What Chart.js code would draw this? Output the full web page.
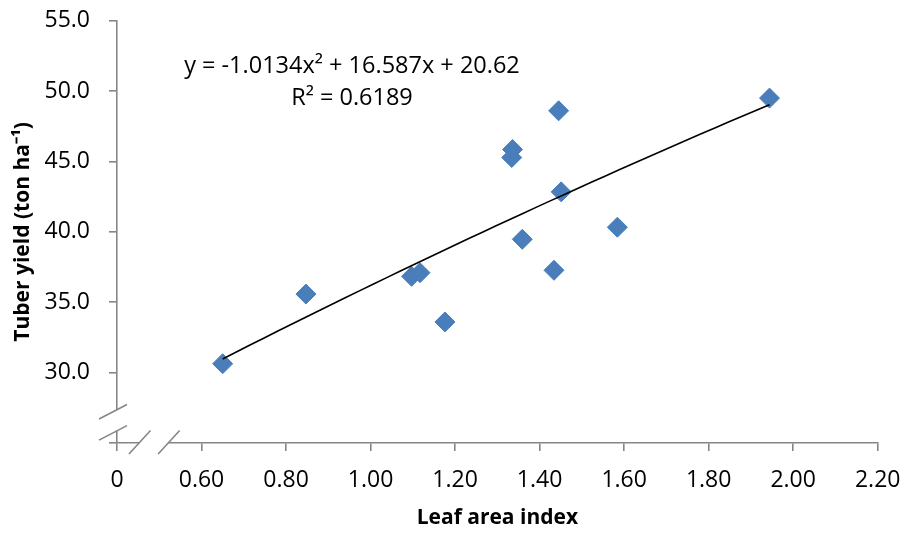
<!DOCTYPE html>
<html>
<head>
<meta charset="utf-8">
<script src="https://cdn.jsdelivr.net/npm/chart.js@4.4.1/dist/chart.umd.min.js"></script>
<style>
  html, body { margin: 0; padding: 0; background: #fff; }
  #wrap { width: 906px; height: 534px; }
</style>
</head>
<body>
<div id="wrap"><canvas id="chart" width="906" height="534"></canvas></div>
<script>
// data
const leafAreaIndex = [0.650, 0.847, 1.097, 1.117, 1.176, 1.334, 1.336, 1.359, 1.434, 1.445, 1.451, 1.584, 1.944];
const tuberYield    = [30.63, 35.58, 36.84, 37.10, 33.60, 45.28, 45.85, 39.47, 37.27, 48.60, 42.84, 40.33, 49.50];

// trendline as printed on the chart: y = a*x^2 + b*x + c
const trendCoef = [-1.0134, 16.587, 20.62];
const trendLabel = ["y = -1.0134x\u00B2 + 16.587x + 20.62", "R\u00B2 = 0.6189"];

const xTickLabels = ["0", "0.60", "0.80", "1.00", "1.20", "1.40", "1.60", "1.80", "2.00", "2.20"];
const yTickLabels = ["", "30.0", "35.0", "40.0", "45.0", "50.0", "55.0"];

const FONT = "'Open Sans', 'Liberation Sans', sans-serif";
const AXIS_GREY = "#868686";

const scatterPoints = leafAreaIndex.map((x, i) => ({ x: x, y: tuberYield[i] }));

// sample the fitted curve between the smallest and largest x
const xLo = Math.min(...leafAreaIndex);
const xHi = Math.max(...leafAreaIndex);
const trendPoints = [];
for (let k = 0; k <= 40; k++) {
    const x = xLo + (xHi - xLo) * k / 40;
    trendPoints.push({ x: x, y: trendCoef[0] * x * x + trendCoef[1] * x + trendCoef[2] });
}

// axis breaks (white gap + two slashes on each axis)
const axisBreaks = {
    id: "axisBreaks",
    afterDraw(chart) {
        const ctx = chart.ctx;
        const xs = chart.scales.x, ys = chart.scales.y;
        const ax = xs.left, ay = ys.bottom;

        const yA = ys.getPixelForValue(27.38), yB = ys.getPixelForValue(25.88);
        const xA = xs.getPixelForValue(0.452), xB = xs.getPixelForValue(0.521);

        ctx.save();
        ctx.fillStyle = "#fff";
        ctx.fillRect(ax - 3, yA, 6, yB - yA);
        ctx.fillRect(xA, ay - 3, xB - xA, 6);

        ctx.strokeStyle = AXIS_GREY;
        ctx.lineWidth = 1.6;
        ctx.beginPath();
        [yA, yB].forEach(py => {
            ctx.moveTo(ax - 18, py + 9.5);
            ctx.lineTo(ax + 10, py - 5);
        });
        [xA, xB].forEach(px => {
            ctx.moveTo(px - 10, ay + 11);
            ctx.lineTo(px + 11.5, ay - 12.5);
        });
        ctx.stroke();

        // trendline equation
        ctx.fillStyle = "#000";
        ctx.font = "23.5px " + FONT;
        ctx.textAlign = "center";
        ctx.textBaseline = "middle";
        const cx = xs.getPixelForValue(0.956);
        ctx.fillText(trendLabel[0], cx, ys.getPixelForValue(51.78));
        ctx.fillText(trendLabel[1], cx, ys.getPixelForValue(49.5));
        ctx.restore();
    }
};

new Chart(document.getElementById("chart"), {
    type: "scatter",
    data: {
        datasets: [
            {
                label: "Trend",
                type: "line",
                data: trendPoints,
                borderColor: "#000",
                borderWidth: 1.6,
                pointRadius: 0,
                fill: false,
                tension: 0,
                order: 0
            },
            {
                label: "Tuber yield",
                data: scatterPoints,
                pointStyle: "rectRot",
                pointRadius: 10,
                pointHoverRadius: 10,
                backgroundColor: "#4A7EBB",
                borderColor: "#4A7EBB",
                borderWidth: 1,
                order: 1
            }
        ]
    },
    options: {
        responsive: false,
        animation: false,
        layout: { padding: { top: 20.7, right: 28.3, left: 0, bottom: 0 } },
        plugins: {
            legend: { display: false },
            tooltip: { enabled: false }
        },
        scales: {
            x: {
                type: "linear",
                min: 0.4,
                max: 2.2,
                afterFit(scale) {
                    scale.height = 91;
                    scale.paddingLeft = 0;
                    scale.paddingRight = 0;
                },
                afterBuildTicks(scale) {
                    scale.ticks = xTickLabels.map((_, i) => ({ value: 0.4 + 0.2 * i }));
                },
                ticks: {
                    padding: 16,
                    color: "#000",
                    font: { family: FONT, size: 23 },
                    callback: (v, i) => xTickLabels[i]
                },
                grid: { drawOnChartArea: false, drawTicks: true, tickLength: 8, color: AXIS_GREY, lineWidth: 1.6 },
                border: { color: AXIS_GREY, width: 1.6 },
                title: {
                    display: true,
                    text: "Leaf area index",
                    color: "#000",
                    font: { family: FONT, size: 21, weight: "bold" },
                    padding: { top: 0, bottom: 3 }
                }
            },
            y: {
                type: "linear",
                min: 25,
                max: 55,
                afterFit(scale) {
                    scale.width = 117;
                    scale.paddingTop = 0;
                    scale.paddingBottom = 0;
                },
                afterBuildTicks(scale) {
                    scale.ticks = yTickLabels.map((_, i) => ({ value: 25 + 5 * i }));
                },
                ticks: {
                    padding: 19,
                    color: "#000",
                    font: { family: FONT, size: 23 },
                    callback: (v, i) => yTickLabels[i]
                },
                grid: { drawOnChartArea: false, drawTicks: true, tickLength: 8, color: AXIS_GREY, lineWidth: 1.6 },
                border: { color: AXIS_GREY, width: 1.6 },
                title: {
                    display: true,
                    text: "Tuber yield (ton ha\u207B\u00B9)",
                    color: "#000",
                    font: { family: FONT, size: 21, weight: "bold" },
                    padding: { top: 10, bottom: 0 }
                }
            }
        }
    },
    plugins: [axisBreaks]
});
</script>
</body>
</html>
